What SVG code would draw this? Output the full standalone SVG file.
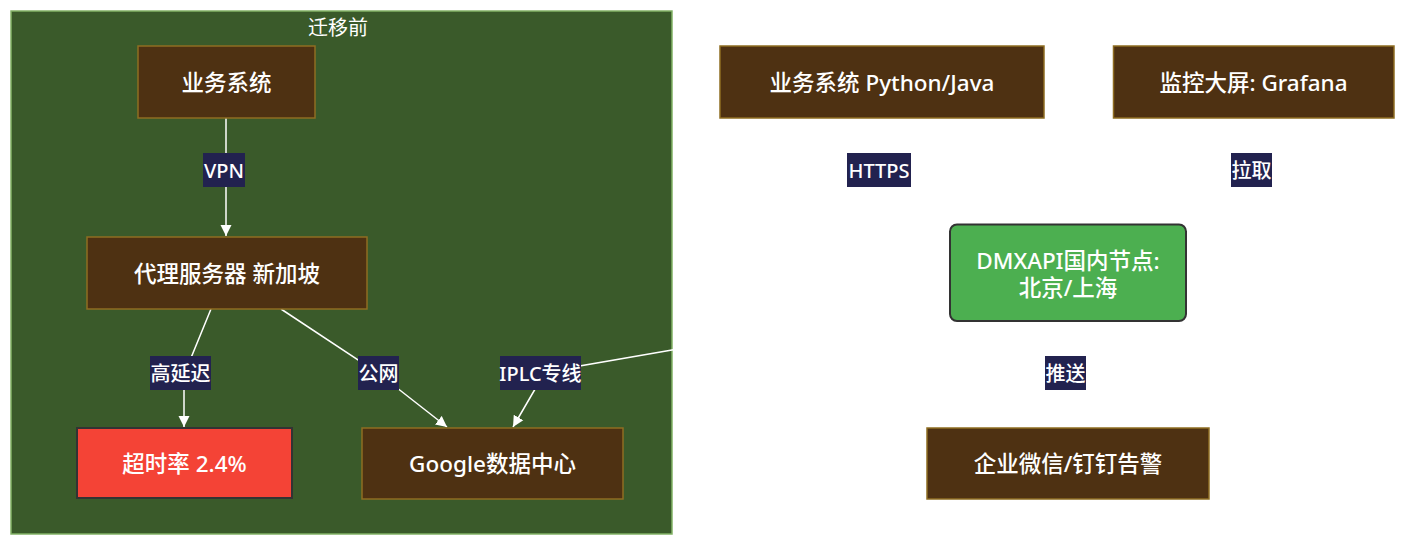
<svg xmlns="http://www.w3.org/2000/svg" width="1406" height="546" viewBox="0 0 1406 546">
<style>
text{font-family:"Noto Sans","Noto Sans CJK SC",sans-serif;fill:#ffffff;text-anchor:middle;dominant-baseline:central;font-weight:500;}
.n{fill:#4e3112;stroke:#8f6d22;stroke-width:1.5;}
.nt{font-size:22.5px;}
.lb{fill:#22224f;}
.lt{font-size:20px;}
.e{fill:none;stroke:#ffffff;stroke-width:1.5;}
</style>
<defs>
<marker id="ah" viewBox="0 0 10 10" refX="10" refY="5" markerWidth="11" markerHeight="12" markerUnits="userSpaceOnUse" orient="auto">
<path d="M0,0 L10,5 L0,10 z" fill="#ffffff"/>
</marker>
</defs>
<rect width="1406" height="546" fill="#ffffff"/>
<g id="cluster-before">
<rect x="11" y="11" width="661" height="523" fill="#3a5a2a" stroke="#82b366" stroke-width="1.5"/>
<text x="338" y="27" style="font-size:20px;font-weight:400">迁移前</text>
</g>
<g id="connectors">
<path class="e" d="M226,118 L226,236" marker-end="url(#ah)"/>
<path class="e" d="M211,309 L184,375 L184,427" marker-end="url(#ah)"/>
<path class="e" d="M281,309 L378,373 L447,427" marker-end="url(#ah)"/>
<path class="e" d="M949,299 L672,350 L545,372 L513,427" marker-end="url(#ah)"/>
<path class="e" d="M881,118 L879,170 L1000,223" marker-end="url(#ah)"/>
<path class="e" d="M1253,118 L1251,170 L1140,223" marker-end="url(#ah)"/>
<path class="e" d="M1068,322 L1066,373 L1068,427" marker-end="url(#ah)"/>
<g id="label-vpn"><rect class="lb" x="203" y="153" width="42" height="34"/><text class="lt" x="224" y="170">VPN</text></g>
<g id="label-latency"><rect class="lb" x="150" y="356" width="61" height="34"/><text class="lt" x="180.5" y="373">高延迟</text></g>
<g id="label-public"><rect class="lb" x="358" y="356" width="41" height="34"/><text class="lt" x="378.5" y="373">公网</text></g>
<g id="label-iplc"><rect class="lb" x="500" y="356" width="81" height="34"/><text class="lt" x="540.5" y="373">IPLC专线</text></g>
<g id="label-https"><rect class="lb" x="847" y="153" width="64" height="34"/><text class="lt" x="879" y="170">HTTPS</text></g>
<g id="label-pull"><rect class="lb" x="1231" y="153" width="41" height="34"/><text class="lt" x="1251.5" y="170">拉取</text></g>
<g id="label-push"><rect class="lb" x="1045" y="356" width="41" height="34"/><text class="lt" x="1065.5" y="373">推送</text></g>
</g>
<g id="node-biz">
<rect class="n" x="138" y="46" width="177" height="72"/>
<text class="nt" x="226.5" y="82">业务系统</text>
</g>
<g id="node-proxy">
<rect class="n" x="87" y="237" width="280" height="72"/>
<text class="nt" x="227" y="273">代理服务器 新加坡</text>
</g>
<g id="node-timeout">
<rect x="77" y="428" width="215" height="70" fill="#f44336" stroke="#333333" stroke-width="2"/>
<text class="nt" x="184.5" y="463">超时率 2.4%</text>
</g>
<g id="node-google">
<rect class="n" x="362" y="428" width="261" height="71"/>
<text class="nt" x="492.5" y="463.5">Google数据中心</text>
</g>
<g id="node-biz2">
<rect class="n" x="720" y="46" width="324" height="72"/>
<text class="nt" x="882" y="82">业务系统 Python/Java</text>
</g>
<g id="node-grafana">
<rect class="n" x="1113.5" y="46" width="280.5" height="72"/>
<text class="nt" x="1253.5" y="82">监控大屏: Grafana</text>
</g>
<g id="node-dmxapi">
<rect x="950" y="224.5" width="236" height="96.5" rx="7" ry="7" fill="#4caf50" stroke="#333333" stroke-width="2"/>
<text class="nt"><tspan x="1068" y="259.5">DMXAPI国内节点:</tspan><tspan x="1068" y="286.5">北京/上海</tspan></text>
</g>
<g id="node-alert">
<rect class="n" x="927" y="428" width="282" height="71"/>
<text class="nt" x="1068" y="463.5">企业微信/钉钉告警</text>
</g>
</svg>
